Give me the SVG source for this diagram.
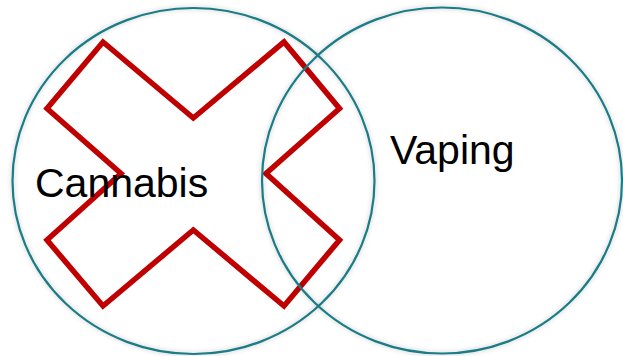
<svg xmlns="http://www.w3.org/2000/svg" width="623" height="356" viewBox="0 0 623 356">
  <defs>
    <filter id="shadow" x="-10%" y="-10%" width="120%" height="120%">
      <feGaussianBlur in="SourceAlpha" stdDeviation="2.5" result="b"/>
      <feComponentTransfer in="b" result="s"><feFuncA type="linear" slope="0.25"/></feComponentTransfer>
      <feMerge><feMergeNode in="s"/><feMergeNode in="SourceGraphic"/></feMerge>
    </filter>
  </defs>
  <style>
    .ring { fill: none; stroke: #1B7C86; stroke-width: 2.2; }
    .label { font-family: "Liberation Sans", Arial, sans-serif; font-size: 41px; fill: #000; }
    .cross { fill: none; stroke: #C00000; stroke-width: 5.5; stroke-linejoin: miter; }
  </style>
  <rect width="623" height="356" fill="#fff"/>
  <g id="cross">
    <polygon class="cross" points="103,42 193.3,118 284,42 339.5,108.5 266,173.5 339.5,240 284,306 193.3,230 103,306 47,240 121,173.5 47,108.5"/>
  </g>
  <g id="cannabis">
    <ellipse class="ring" cx="193.5" cy="181" rx="181" ry="173" filter="url(#shadow)"/>
    <text class="label" x="35" y="197">Cannabis</text>
  </g>
  <g id="vaping">
    <ellipse class="ring" cx="442" cy="180.5" rx="180" ry="173" filter="url(#shadow)"/>
    <text class="label" x="390" y="164">Vaping</text>
  </g>
  <g id="connectors"/>
</svg>
